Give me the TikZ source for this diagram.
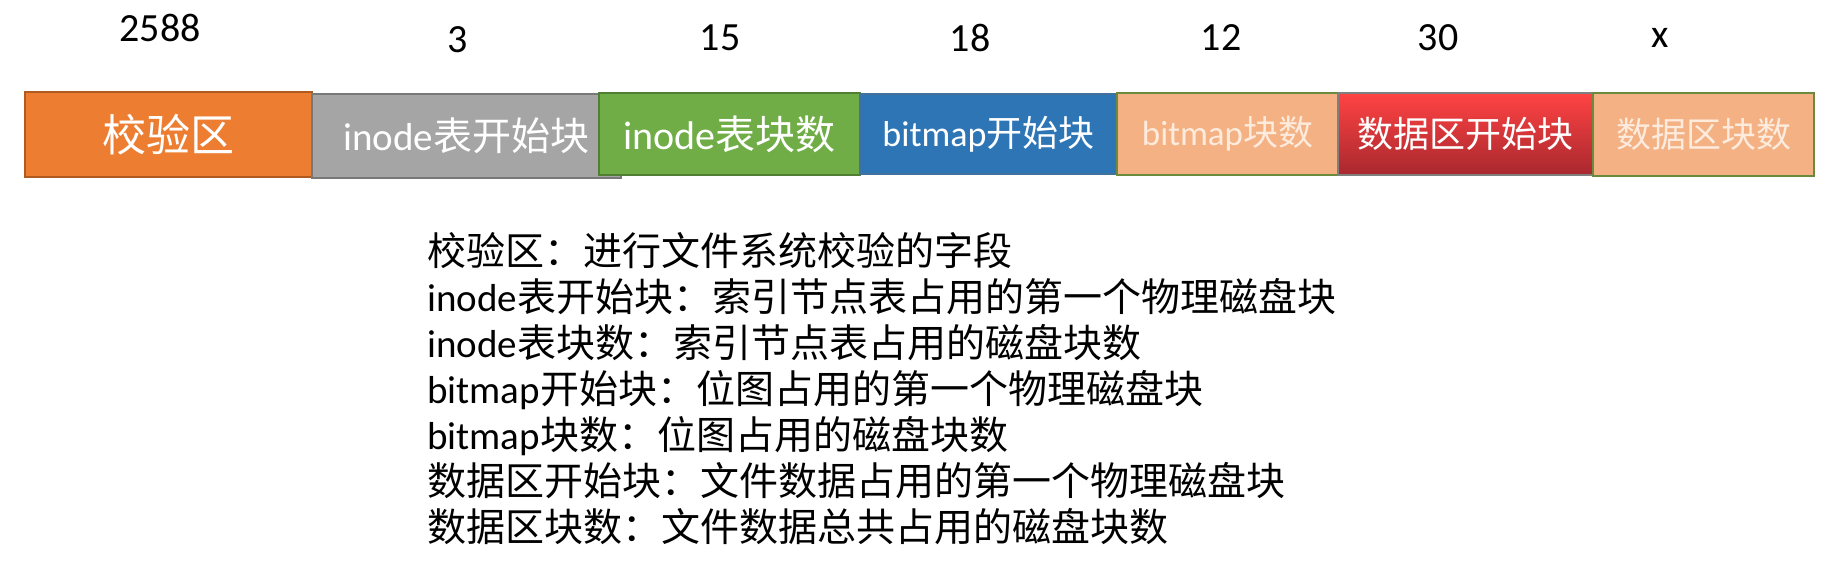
\documentclass[tikz,border=0pt]{standalone}
\usepackage{fontspec}
\setmainfont{Carlito}
\newfontfamily\cjk{Noto Sans CJK SC}
\newcommand{\zh}[1]{{\cjk #1}}
\newcommand{\fs}[1]{\fontsize{#1}{#1}\selectfont}
\definecolor{orangeF}{HTML}{ED7D31}
\definecolor{orangeB}{HTML}{AE5A21}
\definecolor{greyF}{HTML}{A5A5A5}
\definecolor{greyB}{HTML}{787878}
\definecolor{greenF}{HTML}{70AD47}
\definecolor{greenB}{HTML}{507E32}
\definecolor{blueF}{HTML}{2E75B6}
\definecolor{blueB}{HTML}{41719C}
\definecolor{peachF}{HTML}{F4B183}
\definecolor{peachB}{HTML}{6A8B3E}
\definecolor{peachT}{HTML}{FDEBDD}
\definecolor{redT}{HTML}{FF4343}
\definecolor{redBot}{HTML}{A8282E}
\definecolor{redB}{HTML}{7F7F7F}
\begin{document}
\begin{tikzpicture}[x=1pt,y=-1pt,
  seg/.style={line width=2pt, inner sep=0pt, anchor=north west, text=white},
  num/.style={inner sep=0pt, font=\fs{40}},
  desc/.style={inner sep=0pt, anchor=base west, font=\fs{39}}]
\useasboundingbox[fill=white] (0,0) rectangle (1830,560);
% segments
\node[seg, fill=orangeF, draw=orangeB, minimum width=287pt, minimum height=85pt, font=\fs{44}] (s1) at (24,91) {\zh{校验区}};
\node[seg, fill=greyF, draw=greyB, minimum width=309pt, minimum height=84pt, font=\fs{39}] (s2) at (311,93) {inode\zh{表开始块}};
\node[seg, fill=greenF, draw=greenB, minimum width=261pt, minimum height=82pt, font=\fs{40}] (s3) at (598,92) {inode\zh{表块数}};
\node[seg, fill=blueF, draw=blueB, minimum width=257pt, minimum height=80pt, font=\fs{36}] (s4) at (859,93) {bitmap\zh{开始块}};
\node[seg, fill=peachF, draw=peachB, minimum width=221pt, minimum height=82pt, font=\fs{35}, text=peachT] (s5) at (1116,92) {bitmap\zh{块数}};
\node[seg, top color=redT, bottom color=redBot, draw=redB, minimum width=255pt, minimum height=82pt, font=\fs{36}] (s6) at (1337,92) {\zh{数据区开始块}};
\node[seg, fill=peachF, draw=peachB, minimum width=221pt, minimum height=83pt, font=\fs{35}, text=peachT] (s7) at (1592,92) {\zh{数据区块数}};
% numbers
\node[num] (n1) at (160,28) {2588};
\node[num] (n2) at (458,40) {3};
\node[num] (n3) at (720,38) {15};
\node[num] (n4) at (970,38) {18};
\node[num] (n5) at (1221,38) {12};
\node[num] (n6) at (1438,38) {30};
\node[num] (n7) at (1660,38) {x};
% description
\node[desc] (l1) at (427,265) {\zh{校验区：进行文件系统校验的字段}};
\node[desc] (l2) at (427,311) {inode\zh{表开始块：索引节点表占用的第一个物理磁盘块}};
\node[desc] (l3) at (427,357) {inode\zh{表块数：索引节点表占用的磁盘块数}};
\node[desc] (l4) at (427,403) {bitmap\zh{开始块：位图占用的第一个物理磁盘块}};
\node[desc] (l5) at (427,449) {bitmap\zh{块数：位图占用的磁盘块数}};
\node[desc] (l6) at (427,495) {\zh{数据区开始块：文件数据占用的第一个物理磁盘块}};
\node[desc] (l7) at (427,541) {\zh{数据区块数：文件数据总共占用的磁盘块数}};
\end{tikzpicture}
\end{document}
